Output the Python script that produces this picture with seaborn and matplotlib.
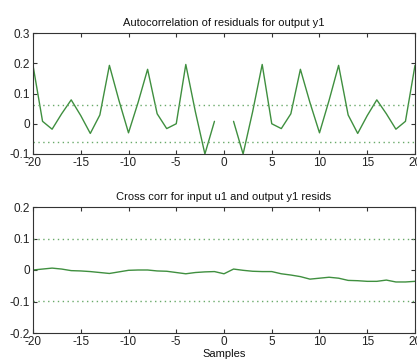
import numpy as np
import pandas as pd
import matplotlib
matplotlib.use("Agg")
import matplotlib.pyplot as plt
from matplotlib.ticker import FormatStrFormatter, FuncFormatter
import seaborn as sns

# ---- data ----
lags = list(range(-20, 21))
# autocorrelation for positive lags 1..20 (symmetric)
acf_pos = [0.008, -0.10, 0.04, 0.196, 0.0, -0.016, 0.033, 0.18, 0.07, -0.03,
           0.077, 0.193, 0.029, -0.032, 0.027, 0.079, 0.033, -0.018, 0.008, 0.193]
acf_neg = acf_pos[::-1]
acf_conf = 0.061

xcorr = [0.0, 0.003, 0.006, 0.003, -0.002, -0.003, -0.005, -0.008, -0.011, -0.006,
         -0.001, 0.0, 0.0, -0.003, -0.004, -0.008, -0.012, -0.008, -0.006, -0.005,
         -0.012,
         0.003, -0.001, -0.004, -0.005, -0.005, -0.012, -0.016, -0.021, -0.029,
         -0.026, -0.023, -0.026, -0.033, -0.034, -0.036, -0.036, -0.032, -0.038,
         -0.038, -0.036]
xcorr_conf = 0.098

xticks = [-20, -15, -10, -5, 0, 5, 10, 15, 20]
yticks_top = [-0.1, 0, 0.1, 0.2, 0.3]
yticks_bot = [-0.2, -0.1, 0, 0.1, 0.2]

title_top = "Autocorrelation of residuals for output y1"
title_bot = "Cross corr for input u1 and output y1 resids"
xlabel = "Samples"

# ---- style ----
sns.set_style("ticks")
plt.rcParams["font.family"] = ["Liberation Sans", "DejaVu Sans"]
plt.rcParams["axes.unicode_minus"] = False

line_color = "#3f8f3f"
conf_color = "#6aaa6a"
spine_color = "#333333"

fig = plt.figure(figsize=(4.17, 3.59), dpi=100)
fig.patch.set_facecolor("white")
ax1 = fig.add_axes([33 / 417, 1 - 154 / 359, 382 / 417, 121 / 359])
ax2 = fig.add_axes([33 / 417, 1 - 333 / 359, 382 / 417, 126 / 359])

neg_df = pd.DataFrame({"lag": lags[:20], "val": acf_neg})
pos_df = pd.DataFrame({"lag": lags[21:], "val": acf_pos})
sns.lineplot(data=neg_df, x="lag", y="val", ax=ax1, color=line_color, linewidth=1.0)
sns.lineplot(data=pos_df, x="lag", y="val", ax=ax1, color=line_color, linewidth=1.0)
for c in (acf_conf, -acf_conf):
    ax1.axhline(c, color=conf_color, linestyle=(0, (1, 2.5)), linewidth=1.0)

xc_df = pd.DataFrame({"lag": lags, "val": xcorr})
sns.lineplot(data=xc_df, x="lag", y="val", ax=ax2, color=line_color, linewidth=1.0)
for c in (xcorr_conf, -xcorr_conf):
    ax2.axhline(c, color=conf_color, linestyle=(0, (1, 2.5)), linewidth=1.0)

fmt = FuncFormatter(lambda v, p: ("%g" % round(v, 3)))
for ax, yt, title in ((ax1, yticks_top, title_top), (ax2, yticks_bot, title_bot)):
    ax.set_xlim(-20, 20)
    ax.set_ylim(yt[0], yt[-1])
    ax.set_xticks(xticks)
    ax.set_yticks(yt)
    ax.yaxis.set_major_formatter(fmt)
    ax.set_xlabel("")
    ax.set_ylabel("")
    ax.set_title(title, fontsize=8, pad=5, color="#111111")
    ax.tick_params(direction="in", length=3, width=0.8, labelsize=8.5,
                   top=True, right=True, colors=spine_color, labelcolor="#222222", pad=2)
    for s in ax.spines.values():
        s.set_visible(True)
        s.set_color(spine_color)
        s.set_linewidth(0.8)

ax2.set_xlabel(xlabel, fontsize=8, labelpad=1, color="#111111")

fig.savefig("out.png", dpi=100, facecolor="white")
